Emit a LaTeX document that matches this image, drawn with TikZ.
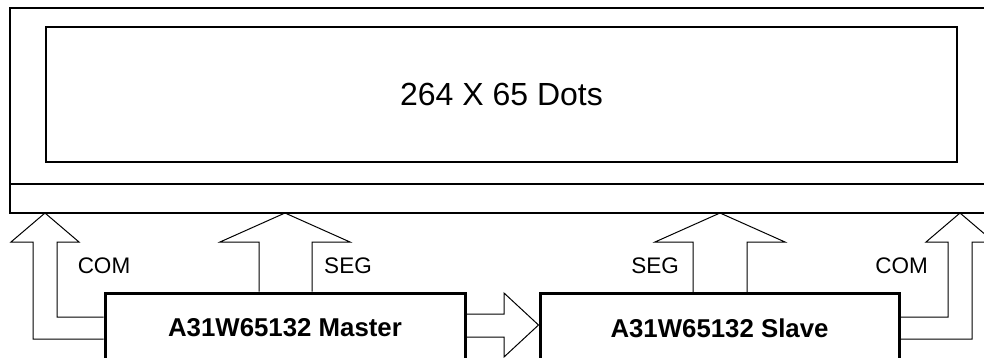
\documentclass[tikz,border=0pt]{standalone}
\usepackage{fontspec}
\setmainfont{Liberation Sans}
\begin{document}
\begin{tikzpicture}[x=1pt,y=-1pt,
  frame/.style={draw=black,line width=2pt,inner sep=0pt,anchor=center},
  chip/.style={draw=black,line width=3pt,fill=white,inner sep=0pt,anchor=center,
    minimum height=69pt,font=\fontsize{25.8}{30}\selectfont\bfseries},
  bus/.style={draw=black,line width=1pt,line join=miter},
  lab/.style={inner sep=0pt,anchor=center,font=\fontsize{22.5}{26}\selectfont}]
\clip (0,0) rectangle (984,357);
% display module
\node[frame,minimum width=983pt,minimum height=205pt] (lcd) at (501.5,110.5) {};
\node[frame,minimum width=911pt,minimum height=135pt,
  font=\fontsize{32}{36}\selectfont] (panel) at (501.5,94.75) {264 X 65 Dots};
\draw[line width=2pt] (lcd.west |- 0,184) coordinate (dl) -- (lcd.east |- 0,184) coordinate (dr);
% driver chips
\node[chip,minimum width=360pt] (master) at (285,327.5) {A31W65132 Master};
\node[chip,minimum width=359pt] (slave) at (719.5,328) {A31W65132 Slave};
% left COM bus
\draw[bus] (master.west |- 0,317) -- (57,317) -- (57,242) -- (79,242)
  -- (45,213) -- (11,242) -- (33,242) -- (33,339) -- (master.west |- 0,339);
% master SEG bus
\draw[bus] (259,0 |- master.north) -- (259,242) -- (220,242) -- (285,213)
  -- (350,242) -- (312,242) -- (312,0 |- master.north);
% slave SEG bus
\draw[bus] (693,0 |- slave.north) -- (693,242) -- (655,242) -- (720,213)
  -- (785,242) -- (747,242) -- (747,0 |- slave.north);
% right COM bus
\draw[bus] (slave.east |- 0,317) -- (948,317) -- (948,242) -- (926,242)
  -- (960,213) -- (994,242) -- (972,242) -- (972,339) -- (slave.east |- 0,339);
% master -> slave bus
\draw[bus] (master.east |- 0,314) -- (504,314) -- (504,293) -- (slave.west |- 0,325)
  -- (504,357) -- (504,337) -- (master.east |- 0,337);
% redraw chips above bus ends
\node[chip,minimum width=360pt] at (master) {A31W65132 Master};
\node[chip,minimum width=359pt] at (slave) {A31W65132 Slave};
% labels
\node[lab] (com1) at (104,266) {COM};
\node[lab] (seg1) at (348,266) {SEG};
\node[lab] (seg2) at (655,266) {SEG};
\node[lab] (com2) at (901.5,266) {COM};
\end{tikzpicture}
\end{document}
